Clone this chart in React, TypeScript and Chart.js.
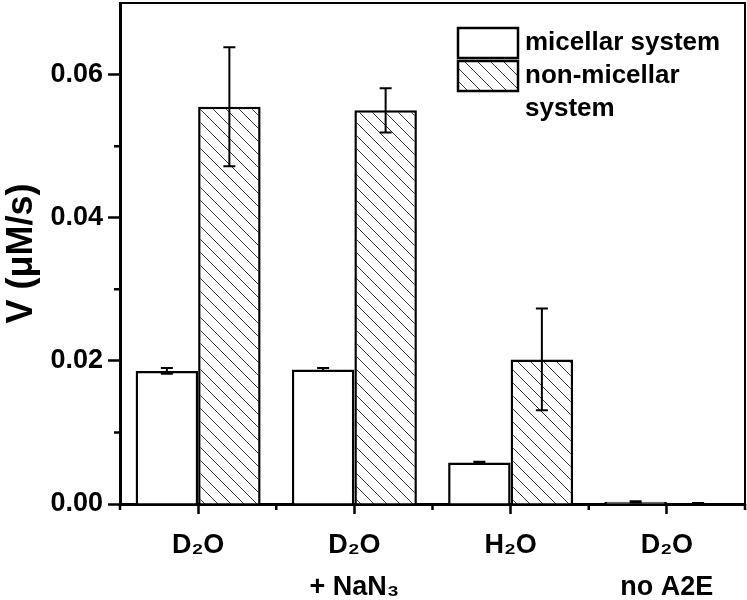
import React, { useEffect, useRef } from "react";
import { Chart, registerables } from "chart.js";

Chart.register(...registerables);

// ---- data ----
const categories: string[][] = [["D₂O"], ["D₂O", "+ NaN₃"], ["H₂O"], ["D₂O", "no A2E"]];
const seriesNames = ["micellar system", "non-micellar system"];
const legendLines: string[][] = [["micellar system"], ["non-micellar", "system"]];
const micellar = [0.0186, 0.0188, 0.0058, 0.0003];
const micellarErr = [0.0004, 0.0002, 0.0001, 0.0001];
const nonMicellar = [0.0555, 0.055, 0.0202, 0.0001];
const nonMicellarErr = [0.0083, 0.0031, 0.0071, 0.00005];
const yMin = 0;
const yMax = 0.07;
const yStep = 0.01;
const yTitle = "V (μM/s)";

const FONT = "'Liberation Sans', Arial, Helvetica, sans-serif";

function makeHatch(ctx: CanvasRenderingContext2D): CanvasPattern | string {
  const s = 13;
  const c = document.createElement("canvas");
  c.width = s;
  c.height = s;
  const g = c.getContext("2d");
  if (!g) return "#fff";
  g.fillStyle = "#ffffff";
  g.fillRect(0, 0, s, s);
  g.strokeStyle = "#3a3a3a";
  g.lineWidth = 1;
  g.beginPath();
  g.moveTo(0, 0);
  g.lineTo(s, s);
  g.moveTo(-2, s - 2);
  g.lineTo(2, s + 2);
  g.moveTo(s - 2, -2);
  g.lineTo(s + 2, 2);
  g.stroke();
  return ctx.createPattern(c, "repeat") || "#fff";
}

export default function App() {
  const ref = useRef<HTMLCanvasElement | null>(null);

  useEffect(() => {
    document.body.style.margin = "0";
    const canvas = ref.current;
    if (!canvas) return;
    const ctx = canvas.getContext("2d")!;
    const hatch = makeHatch(ctx);
    const errs = [micellarErr, nonMicellarErr];

    const extras = {
      id: "extras",
      afterDatasetsDraw(chart: any) {
        const c = chart.ctx;
        const ys = chart.scales.y;
        c.save();
        c.strokeStyle = "#000";
        c.lineWidth = 2;
        chart.data.datasets.forEach((ds: any, di: number) => {
          const meta = chart.getDatasetMeta(di);
          meta.data.forEach((bar: any, i: number) => {
            const v = ds.data[i];
            const e = errs[di][i];
            const x = bar.x;
            const y1 = ys.getPixelForValue(v + e);
            const y2 = ys.getPixelForValue(v - e);
            const cw = 6;
            c.beginPath();
            c.moveTo(x, y1);
            c.lineTo(x, y2);
            c.moveTo(x - cw, y1);
            c.lineTo(x + cw, y1);
            c.moveTo(x - cw, y2);
            c.lineTo(x + cw, y2);
            c.stroke();
          });
        });
        c.restore();
      },
      afterDraw(chart: any) {
        const c = chart.ctx;
        const a = chart.chartArea;
        const ys = chart.scales.y;
        const xs = chart.scales.x;
        c.save();
        // frame top and right
        c.strokeStyle = "#000";
        c.lineWidth = 2;
        c.beginPath();
        c.moveTo(a.left, a.top);
        c.lineTo(a.right, a.top);
        c.lineTo(a.right, a.bottom);
        c.stroke();
        // minor y ticks
        c.lineWidth = 2.5;
        c.beginPath();
        for (let v = yMin + yStep; v < yMax - 1e-9; v += 2 * yStep) {
          const y = ys.getPixelForValue(v);
          c.moveTo(a.left - 6, y);
          c.lineTo(a.left, y);
        }
        // minor x ticks at category boundaries
        const n = categories.length;
        for (let i = 0; i <= n; i++) {
          const x = xs.left + ((xs.right - xs.left) * i) / n;
          c.moveTo(x, a.bottom);
          c.lineTo(x, a.bottom + 6);
        }
        c.stroke();

        // legend
        const lx = 458, lw = 60, lh = 30;
        const boxTops = [28, 61];
        c.font = `bold 26px ${FONT}`;
        c.textAlign = "left";
        c.textBaseline = "middle";
        boxTops.forEach((t, i) => {
          c.fillStyle = i === 0 ? "#fff" : (hatch as any);
          c.fillRect(lx, t, lw, lh);
          c.strokeStyle = "#000";
          c.lineWidth = 2.5;
          c.strokeRect(lx, t, lw, lh);
          c.fillStyle = "#000";
          legendLines[i].forEach((line, k) => {
            c.fillText(line, 525, t + lh / 2 + k * 33);
          });
        });

        // y title
        c.translate(22, (a.top + a.bottom) / 2);
        c.rotate(-Math.PI / 2);
        c.font = `bold 36px ${FONT}`;
        c.textAlign = "center";
        c.textBaseline = "middle";
        c.fillText(yTitle, 0, 0);
        c.restore();
      },
    };

    const chart = new Chart(canvas, {
      type: "bar",
      data: {
        labels: categories,
        datasets: [
          {
            label: seriesNames[0],
            data: micellar,
            backgroundColor: "#ffffff",
            borderColor: "#000",
            borderWidth: 2.5,
          },
          {
            label: seriesNames[1],
            data: nonMicellar,
            backgroundColor: hatch as any,
            borderColor: "#000",
            borderWidth: 2.5,
          },
        ],
      },
      options: {
        responsive: false,
        animation: false,
        layout: { padding: { top: 3, right: 2, left: 0, bottom: 0 } },
        plugins: {
          legend: { display: false },
          tooltip: { enabled: false },
        },
        datasets: {
          bar: { categoryPercentage: 0.8, barPercentage: 1.0 },
        },
        scales: {
          x: {
            offset: true,
            grid: {
              offset: false,
              drawOnChartArea: false,
              drawTicks: true,
              tickLength: 10,
              tickWidth: 2.5,
              tickColor: "#000",
            },
            border: { display: true, color: "#000", width: 3 },
            ticks: {
              color: "#000",
              font: { family: FONT, size: 27, weight: "bold", lineHeight: 1.55 },
              padding: 11,
              maxRotation: 0,
              autoSkip: false,
            },
            afterFit(scale: any) {
              scale.height = 96;
              scale.paddingLeft = 0;
              scale.paddingRight = 0;
            },
          },
          y: {
            min: yMin,
            max: yMax,
            grid: {
              drawOnChartArea: false,
              drawTicks: true,
              tickLength: 12,
              tickWidth: 2.5,
              tickColor: (ctx: any) => {
                const v = ctx.tick ? ctx.tick.value : 0;
                const k = Math.round(v / yStep);
                return k % 2 === 0 && v < yMax - 1e-9 ? "#000" : "rgba(0,0,0,0)";
              },
            },
            border: { display: true, color: "#000", width: 3 },
            ticks: {
              stepSize: yStep,
              color: "#000",
              font: { family: FONT, size: 27, weight: "bold" },
              padding: 5,
              callback: (v: any) => {
                const k = Math.round(Number(v) / yStep);
                return k % 2 === 0 && Number(v) < yMax - 1e-9 ? Number(v).toFixed(2) : "";
              },
            },
            afterFit(scale: any) {
              scale.width = 120;
              scale.paddingTop = 0;
              scale.paddingBottom = 0;
            },
          },
        },
      },
      plugins: [extras],
    });

    return () => chart.destroy();
  }, []);

  return (
    <div style={{ width: 747, height: 600 }}>
      <canvas ref={ref} width={747} height={600} style={{ display: "block" }} />
    </div>
  );
}
